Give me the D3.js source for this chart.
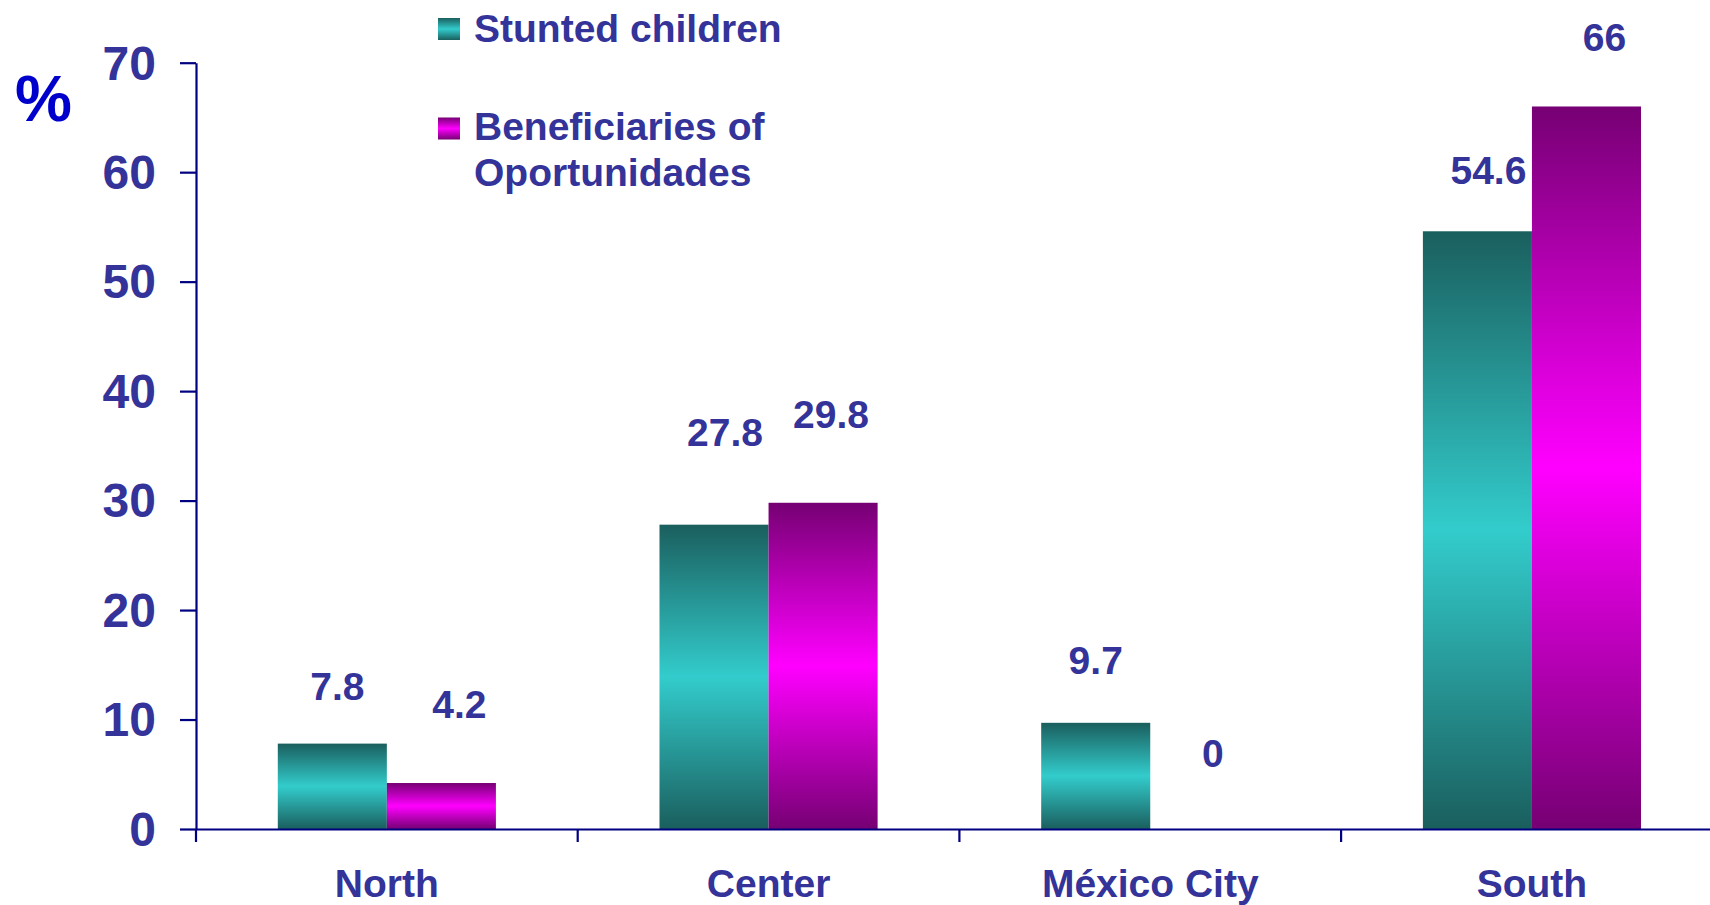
<!DOCTYPE html>
<html>
<head>
<meta charset="utf-8">
<script src="https://cdn.jsdelivr.net/npm/d3@7"></script>
<style>
  html, body { margin: 0; padding: 0; background: #ffffff; }
  svg { display: block; }
  text { font-family: "Liberation Sans", Arial, sans-serif; font-weight: bold; }
</style>
</head>
<body>
<script>
// ---- data ----
const regions = ["North", "Center", "México City", "South"];
const seriesNames = ["Stunted children", "Beneficiaries of Oportunidades"];
const stunted = [7.8, 27.8, 9.7, 54.6];
const beneficiaries = [4.2, 29.8, 0, 66];
const yTicks = [0, 10, 20, 30, 40, 50, 60, 70];

// ---- layout ----
const W = 1710, H = 905;
const plot = { left: 196, top: 62.7, bottom: 829, step: 381.7 };
// hand-placed value labels: [horizontal shift, lift above bar top]
const labelShift = [
  [[5, 58], [18, 79]],
  [[11, 93], [8, 89]],
  [[0, 63], [8, 76]],
  [[11, 61], [18, 70]]
];
const ink = "#333399", axisInk = "#000080";

const svg = d3.select("body").append("svg").attr("width", W).attr("height", H);

// vertical three-stop gradients: dark edge, bright middle, dark edge
const defs = svg.append("defs");
const palettes = [
  { id: "gTeal", edge: "#1a5f5e", mid: "#33cccc" },
  { id: "gMagenta", edge: "#760073", mid: "#ff00ff" }
];
palettes.forEach(p => {
  const g = defs.append("linearGradient").attr("id", p.id)
    .attr("x1", 0).attr("y1", 0).attr("x2", 0).attr("y2", 1);
  g.append("stop").attr("offset", "0%").attr("stop-color", p.edge);
  g.append("stop").attr("offset", "50%").attr("stop-color", p.mid);
  g.append("stop").attr("offset", "100%").attr("stop-color", p.edge);
});

const y = d3.scaleLinear().domain([0, 70]).range([plot.bottom, plot.top]);
const x0 = d3.scaleBand().domain(regions)
  .range([plot.left, plot.left + plot.step * regions.length])
  .paddingInner(0).paddingOuter(0);
const x1 = d3.scaleBand().domain(seriesNames)
  .range([0, x0.bandwidth()]).paddingInner(0).paddingOuter(0.75);

const rows = regions.map((r, i) => ({
  region: r, i,
  vals: [
    { s: seriesNames[0], v: stunted[i], k: 0 },
    { s: seriesNames[1], v: beneficiaries[i], k: 1 }
  ]
}));

// bars
const groups = svg.append("g").selectAll("g").data(rows).join("g")
  .attr("transform", d => `translate(${x0(d.region)},0)`);
groups.selectAll("rect").data(d => d.vals.filter(e => e.v > 0)).join("rect")
  .attr("x", d => x1(d.s))
  .attr("y", d => y(d.v))
  .attr("width", x1.bandwidth())
  .attr("height", d => y(0) - y(d.v))
  .attr("fill", d => `url(#${palettes[d.k].id})`);

// value labels
groups.selectAll("text.val").data(d => d.vals.map(e => ({ ...e, i: d.i }))).join("text")
  .attr("class", "val")
  .attr("x", d => x1(d.s) + x1.bandwidth() / 2 + labelShift[d.i][d.k][0])
  .attr("y", d => y(d.v) - labelShift[d.i][d.k][1])
  .attr("dy", "0.36em")
  .attr("text-anchor", "middle")
  .attr("font-size", 39)
  .attr("fill", ink)
  .text(d => d.v);

// y axis
const yAxis = svg.append("g").attr("transform", `translate(${plot.left},0)`)
  .call(d3.axisLeft(y).tickValues(yTicks).tickSize(16).tickSizeOuter(0).tickPadding(24));
yAxis.select(".domain").attr("stroke", axisInk).attr("stroke-width", 2.2);
yAxis.selectAll(".tick line").attr("stroke", axisInk).attr("stroke-width", 2.2);
yAxis.selectAll(".tick text").attr("font-size", 48).attr("fill", ink)
  .attr("font-family", null).attr("dy", "0.34em");

// x axis
const xAxis = svg.append("g").attr("transform", `translate(0,${plot.bottom})`)
  .call(d3.axisBottom(x0).tickSize(0).tickSizeOuter(0).tickPadding(40));
xAxis.select(".domain").attr("stroke", axisInk).attr("stroke-width", 2.2);
xAxis.selectAll(".tick text").attr("font-size", 39).attr("fill", ink)
  .attr("font-family", null);
// category separators hang below the axis at each band edge
xAxis.selectAll("line.sep").data(regions).join("line")
  .attr("class", "sep")
  .attr("x1", d => x0(d)).attr("x2", d => x0(d))
  .attr("y1", 0).attr("y2", 13)
  .attr("stroke", axisInk).attr("stroke-width", 2.2);

// unit marker
svg.append("text").attr("x", 43.5).attr("y", 97.5).attr("dy", "0.36em")
  .attr("text-anchor", "middle").attr("font-size", 64).attr("fill", "#0000cc")
  .text("%");

// legend
const legend = svg.append("g");
const legendRows = [
  { lines: ["Stunted children"], top: 18, base: 42 },
  { lines: ["Beneficiaries of", "Oportunidades"], top: 117.5, base: 140 }
];
legendRows.forEach((r, k) => {
  legend.append("rect").attr("x", 438).attr("y", r.top)
    .attr("width", 22).attr("height", 22)
    .attr("fill", `url(#${palettes[k].id})`);
  const t = legend.append("text").attr("x", 474).attr("y", r.base)
    .attr("font-size", 39).attr("fill", ink);
  r.lines.forEach((ln, j) => {
    t.append("tspan").attr("x", 474).attr("dy", j === 0 ? 0 : 46).text(ln);
  });
});
</script>
</body>
</html>
